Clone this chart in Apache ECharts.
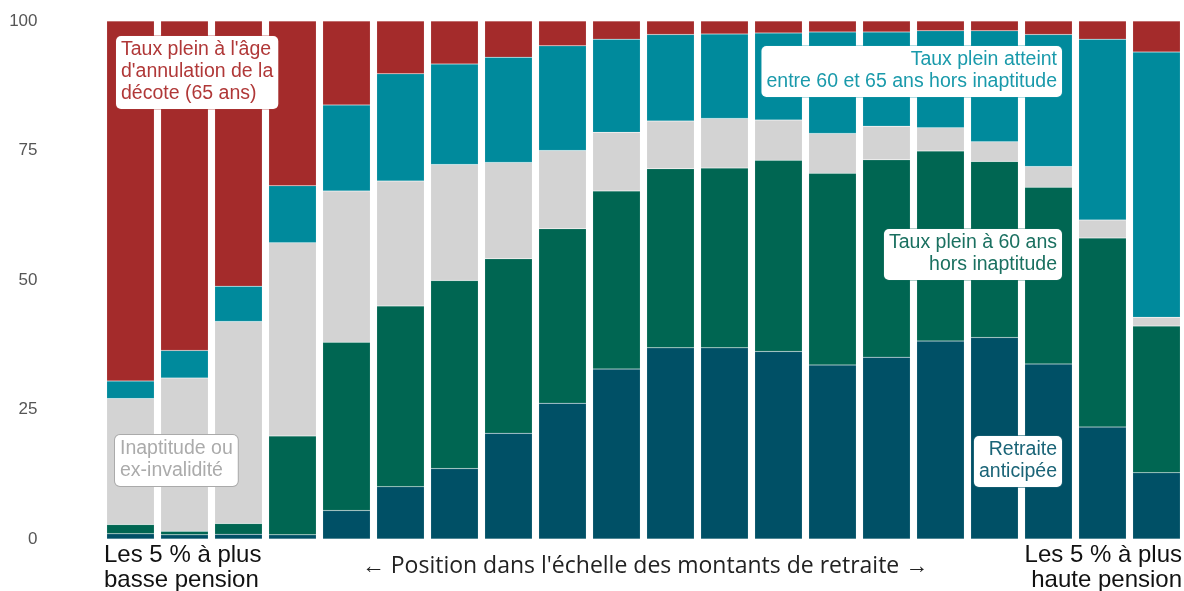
<!DOCTYPE html>
<html>
<head>
<meta charset="utf-8">
<script src="https://cdn.jsdelivr.net/npm/echarts@6/dist/echarts.min.js"></script>
<style>
html,body{margin:0;padding:0;background:#fff;}
#chart{width:1184px;height:591px;}
</style>
</head>
<body>
<div id="chart"></div>
<script>
// 20 vingtiles of pension amount (low → high)
const categories = ['V1','V2','V3','V4','V5','V6','V7','V8','V9','V10','V11','V12','V13','V14','V15','V16','V17','V18','V19','V20'];
const retraiteAnticipee = [1.0,0.8,0.9,0.8,5.5,10.1,13.6,20.4,26.2,32.8,36.9,36.9,36.2,33.6,35.1,38.2,38.9,33.8,21.6,12.8];
const tauxPlein60 = [1.8,0.7,2.1,19.1,32.5,34.9,36.3,33.7,33.7,34.4,34.6,34.7,36.9,37.0,38.1,36.7,34.0,34.1,36.5,28.3];
const inaptitude = [24.3,29.6,39.0,37.3,29.2,24.1,22.4,18.6,15.1,11.3,9.2,9.6,7.8,7.7,6.5,4.5,3.8,4.0,3.5,1.7];
const tauxPleinEntre = [3.4,5.3,6.8,11.0,16.6,20.7,19.4,20.3,20.2,18.0,16.7,16.3,16.8,19.6,18.2,18.7,21.4,25.5,34.9,51.2];
const tauxPleinAge = [69.5,63.6,51.2,31.8,16.2,10.2,8.3,7.0,4.8,3.5,2.6,2.5,2.3,2.1,2.1,1.9,1.9,2.6,3.5,6.0];
const yTicks = [0,25,50,75,100];
const lowLabel = 'Les 5 % à plus\nbasse pension';
const highLabel = 'Les 5 % à plus\nhaute pension';
const axisTitle = '← Position dans l\'échelle des montants de retraite →';

const seriesDefs = [
  {name:'Retraite anticipée', data:retraiteAnticipee, color:'#005066'},
  {name:'Taux plein à 60 ans hors inaptitude', data:tauxPlein60, color:'#006652'},
  {name:'Inaptitude ou ex-invalidité', data:inaptitude, color:'#d3d3d3'},
  {name:'Taux plein atteint entre 60 et 65 ans hors inaptitude', data:tauxPleinEntre, color:'#008a9c'},
  {name:"Taux plein à l'âge d'annulation de la décote (65 ans)", data:tauxPleinAge, color:'#a42b2b'}
];

const chart = echarts.init(document.getElementById('chart'), null, {renderer:'canvas'});
const labelFont = '19.5px "Liberation Sans", Arial, sans-serif';
function box(text, x, y, color, border, align){
  return {type:'text', x:x, y:y, z:100, style:{
    text:text, fill:color, font:labelFont, align:align, verticalAlign:'top',
    lineHeight:22, backgroundColor:'#fff', borderColor:border, borderWidth:1,
    borderRadius:5, padding:[3,5,4,5]
  }};
}
chart.setOption({
  animation:false,
  grid:{left:103.5, right:0.5, top:21, bottom:52, containLabel:false},
  xAxis:{type:'category', data:categories, axisLine:{show:false}, axisTick:{show:false}, axisLabel:{show:false}, splitLine:{show:false}},
  yAxis:{type:'value', min:0, max:100, interval:25, splitLine:{show:false}, axisLine:{show:false}, axisTick:{show:false},
    axisLabel:{margin:66, color:'#555', fontSize:17, fontFamily:'"Liberation Sans Narrow", "Liberation Sans", sans-serif',
      formatter:function(v){return yTicks.indexOf(v)>=0 ? String(v) : '';}}},
  series: seriesDefs.map(s=>({
    type:'bar', name:s.name, stack:'total', data:s.data, barCategoryGap:'12%',
    itemStyle:{color:s.color, borderColor:'rgba(255,255,255,0.25)', borderWidth:0.5}
  })),
  graphic:[
    box("Taux plein à l'âge\nd'annulation de la\ndécote (65 ans)", 116, 36, '#b03838', 'rgba(176,56,56,0.35)', 'left'),
    box('Inaptitude ou\nex-invalidité', 115, 435, '#ababab', '#aaaaaa', 'left'),
    box('Taux plein atteint\nentre 60 et 65 ans hors inaptitude', 1062, 46, '#1a9aab', 'rgba(26,154,171,0.35)', 'right'),
    box('Taux plein à 60 ans\nhors inaptitude', 1062, 229, '#1a7060', 'rgba(26,112,96,0.35)', 'right'),
    box('Retraite\nanticipée', 1062, 436, '#1a6477', 'rgba(26,100,119,0.6)', 'right'),
    {type:'text', x:104, y:543, style:{text:lowLabel, fill:'#111', font:'24px "Liberation Sans", Arial, sans-serif', align:'left', verticalAlign:'top', lineHeight:25}},
    {type:'text', x:1182, y:543, style:{text:highLabel, fill:'#111', font:'24px "Liberation Sans", Arial, sans-serif', align:'right', verticalAlign:'top', lineHeight:25}},
    {type:'text', x:645, y:566, style:{text:axisTitle, fill:'#222', font:'23px "Open Sans", sans-serif', align:'center', verticalAlign:'middle'}}
  ]
});
</script>
</body>
</html>
